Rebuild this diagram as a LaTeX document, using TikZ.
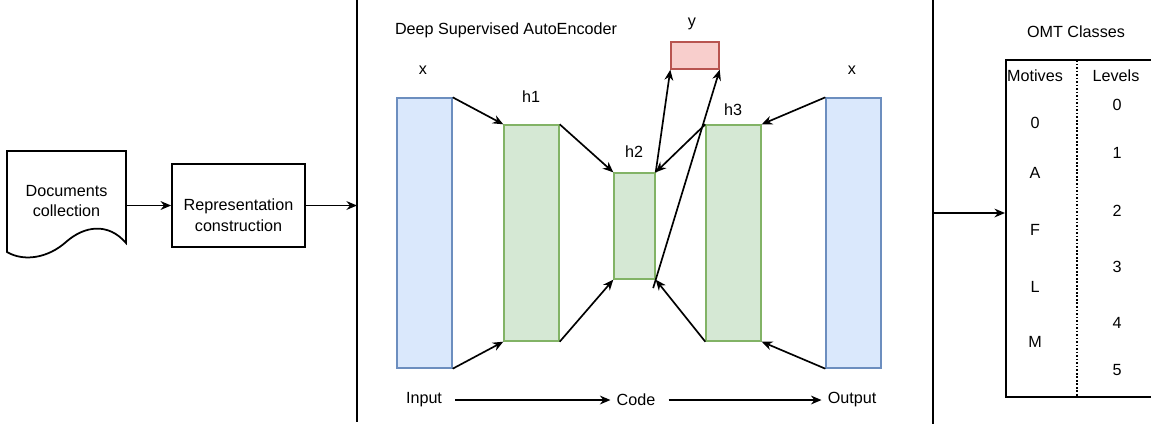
\documentclass[tikz,border=0pt]{standalone}
\usepackage{fontspec}
\setmainfont{Liberation Sans}
\usetikzlibrary{arrows.meta}

\definecolor{bluef}{RGB}{218,232,252}
\definecolor{bluel}{RGB}{108,142,191}
\definecolor{greenf}{RGB}{213,232,212}
\definecolor{greenl}{RGB}{130,179,102}
\definecolor{redf}{RGB}{248,206,204}
\definecolor{redl}{RGB}{184,84,80}

\begin{document}
\begin{tikzpicture}[x=0.02cm, y=-0.02cm,
    every node/.style = {font=\fontsize{9.2}{11}\selectfont},
    arr/.style = {line width=0.95pt, -{Stealth[length=6pt, width=5pt]}},
    layer/.style = {draw, line width=0.8pt, inner sep=0pt},
    outer/.style = {layer, draw=bluel, fill=bluef, minimum width=1.1cm, minimum height=5.4cm},
    hidden/.style = {layer, draw=greenl, fill=greenf, minimum width=1.1cm}]
                    \useasboundingbox (0,0) rectangle (1151,424);
                    % pipeline on the left
                    \draw[line width=1pt, fill=white] (7,151) -- (126,151) -- (126,243)
                        .. controls (108,222) and (84,226) .. (66,242)
                        .. controls (48,258) and (24,262) .. (7,252) -- cycle;
                    \node[minimum width=2.38cm, align=center] (doc) at (66.5,201) {Documents\\collection};
                    \node[draw, line width=1pt, minimum width=2.66cm, minimum height=1.66cm] (rep) at (238.5,205.5) {};
                    \node[align=center, font=\fontsize{9.2}{12}\selectfont] (reptext) at (238.5,215) {Representation\\construction};
                    \draw[line width=1pt] (357,0) -- (357,422);
                    \coordinate (sepL) at (357,205.5);
                    \draw[arr] (doc.east |- rep.west) -- (rep.west);
                    \draw[arr] (rep.east) -- (sepL);
                    % autoencoder
                    \node (title) at (506,30) {Deep Supervised AutoEncoder};
                    \node[outer] (inp) at (424.5,233) {};
                    \node[hidden, minimum height=4.32cm] (h1) at (531.5,233) {};
                    \node[hidden, minimum width=0.82cm, minimum height=2.12cm] (h2) at (634.5,226) {};
                    \node[hidden, minimum height=4.32cm] (h3) at (733.5,233) {};
                    \node[outer] (out) at (853.5,233) {};
                    \node[layer, draw=redl, fill=redf, minimum width=0.96cm, minimum height=0.54cm] (yv) at (695,55.5) {};
                    \node (xin) at (423,70) {x};
                    \node (hone) at (531,97) {h1};
                    \node (htwo) at (634,152) {h2};
                    \node (hthree) at (733,110) {h3};
                    \node (xout) at (852,70) {x};
                    \node (ylab) at (692,24) {y};
                    \draw[arr] (inp.north east) -- (h1.north west);
                    \draw[arr] (inp.south east) -- (h1.south west);
                    \draw[arr] (h1.north east) -- (h2.north west);
                    \draw[arr] (h1.south east) -- (h2.south west);
                    \draw[arr] (out.north west) -- (h3.north east);
                    \draw[arr] (out.south west) -- (h3.south east);
                    \draw[arr] (h3.north west) -- (h2.north east);
                    \draw[arr] (h3.south west) -- (h2.south east);
                    \draw[arr] (h2.north east) -- (yv.south west);
                    \draw[arr, shorten <=-5pt] (h2.south east) -- (yv.south east);
                    \node (inlbl) at (424,400) {Input};
                    \node (codelbl) at (636,400) {Code};
                    \node (outlbl) at (852,400) {Output};
                    \draw[arr, shorten <=4pt] (inlbl) -- (codelbl);
                    \draw[arr, shorten <=4pt] (codelbl) -- (outlbl);
                    % classes on the right
                    \draw[line width=1pt] (933,0) -- (933,424);
                    \coordinate (sepR) at (933,213);
                    \coordinate (tab) at (1005,213);
                    \draw[arr] (sepR) -- (tab);
                    \node (omt) at (1076,32) {OMT Classes};
                    \draw[line width=1pt] (1151,60) -- (1006,60) -- (1006,397) -- (1151,397);
                    \draw[line width=1pt, densely dotted] (1077,60) -- (1077,397);
                    \node (motives) at (1035,76) {Motives};
                    \node (levels) at (1116,76) {Levels};
                    \foreach \m/\y in {0/123, A/173, F/230, L/287, M/342}
                        {\node (mot-\m) at (1035,\y) {\m};}
                    \foreach \l/\y in {0/105, 1/153, 2/211, 3/267, 4/323, 5/370}
                        {\node (lev-\l) at (1117,\y) {\l};}
                \end{tikzpicture}
\end{document}
